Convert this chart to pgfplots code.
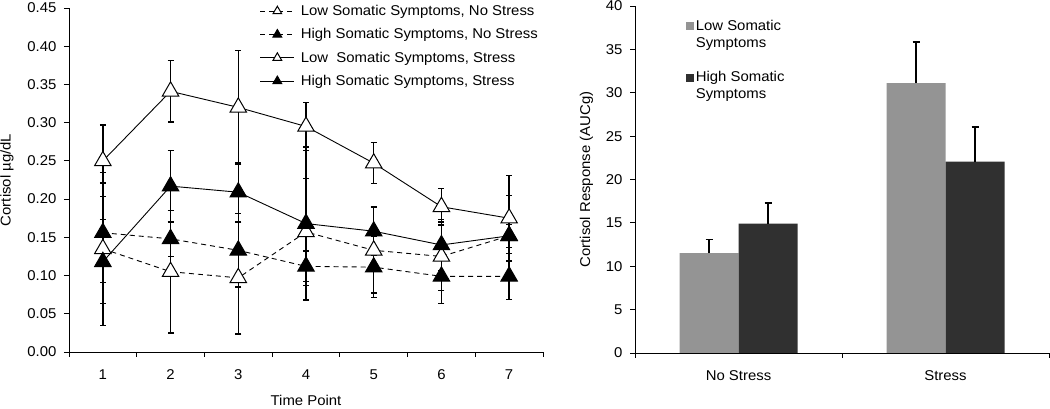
\documentclass[border=0pt]{standalone}
\usepackage{fontspec}
\setmainfont{Liberation Sans}[FakeStretch=1.05]
\usepackage{pgfplots}
\pgfplotsset{compat=1.18}
\definecolor{lowgray}{HTML}{949494}
\definecolor{highgray}{HTML}{303030}
\begin{document}
\begin{tikzpicture}
\useasboundingbox (0pt,0pt) rectangle (1050pt,409pt);
\pgfplotsset{
  every axis/.append style={font=\fontsize{14.2}{17}\selectfont},
  /pgf/number format/assume math mode=true,
}
\begin{axis}[
  at={(69pt,57pt)}, anchor=south west, scale only axis,
  width=474pt, height=344pt,
  xmin=0.5, xmax=7.5, ymin=0, ymax=0.45,
  axis x line*=bottom, axis y line*=left,
  xtick={1,2,3,4,5,6,7},
  minor xtick={0.5,1.5,2.5,3.5,4.5,5.5,6.5,7.5},
  major x tick style={draw=none},
  ytick={0,0.05,0.10,0.15,0.20,0.25,0.30,0.35,0.40,0.45},
  yticklabel style={/pgf/number format/.cd, fixed, fixed zerofill, precision=2, /tikz/.cd, xshift=-4pt},
  xticklabel style={yshift=-9pt},
  tick align=outside, major tick length=5pt, minor tick length=5pt,
  tick style={black, line width=0.8pt},
  axis line style={line width=0.8pt},
  xlabel={Time Point}, ylabel={Cortisol µg/dL},
  xlabel shift=9pt, ylabel shift=7pt,
  legend cell align=left,
  legend style={at={(0.396,1.02)}, anchor=north west, draw=none, fill=none,
    row sep=7.5pt, font=\fontsize{14.2}{17}\selectfont},
  legend image code/.code={\draw[mark repeat=2,mark phase=2,#1,mark size=5pt] plot coordinates {(0pt,0pt) (17pt,0pt) (34pt,0pt)}; \path (38pt,0pt);},
  error bars/y dir=both, error bars/y explicit,
  error bars/error bar style={line width=1.3pt, solid, black},
  error bars/error mark options={rotate=90, mark size=3pt, line width=1.3pt, solid},
]
\addplot[black, line width=0.9pt, dashed, dash pattern=on 5pt off 4pt, mark=triangle*, mark size=9.5pt, mark options={solid, fill=white, line width=1pt}]
 coordinates {(1,0.135) +- (0,0.100) (2,0.105) +- (0,0.080) (3,0.097) +- (0,0.0735) (4,0.157) +- (0,0.070) (5,0.133) +- (0,0.056) (6,0.125) +- (0,0.045) (7,0.152) +- (0,0.015)};
\addlegendentry{Low Somatic Symptoms, No Stress}
\addplot[black, line width=0.9pt, dashed, dash pattern=on 5pt off 4pt, mark=triangle*, mark size=9.5pt, mark options={solid, fill=black, line width=1pt}]
 coordinates {(1,0.156) +- (0,0.065) (2,0.148) +- (0,0.023) (3,0.133) +- (0,0.048) (4,0.112) +- (0,0.020) (5,0.111) +- (0,0.040) (6,0.099) +- (0,0.036) (7,0.099) +- (0,0.030)};
\addlegendentry{High Somatic Symptoms, No Stress}
\addplot[black, line width=0.9pt, mark=triangle*, mark size=9.5pt, mark options={solid, fill=white, line width=1pt}]
 coordinates {(1,0.250) +- (0,0.047) (2,0.341) +- (0,0.040) (3,0.320) +- (0,0.074) (4,0.295) +- (0,0.031) (5,0.247) +- (0,0.027) (6,0.190) +- (0,0.024) (7,0.175) +- (0,0.056)};
\addlegendentry{Low\ \ Somatic Symptoms, Stress}
\addplot[black, line width=0.9pt, mark=triangle*, mark size=9.5pt, mark options={solid, fill=black, line width=1pt}]
 coordinates {(1,0.118) +- (0,0.055) (2,0.217) +- (0,0.047) (3,0.209) +- (0,0.039) (4,0.168) +- (0,0.100) (5,0.158) +- (0,0.032) (6,0.140) +- (0,0.033) (7,0.152) +- (0,0.053)};
\addlegendentry{High Somatic Symptoms, Stress}
\end{axis}

\begin{axis}[
  at={(635pt,56pt)}, anchor=south west, scale only axis,
  width=414pt, height=347pt,
  xmin=-0.5, xmax=1.5, ymin=0, ymax=40,
  ybar=0pt, bar width=59pt,
  axis x line*=bottom, axis y line*=left,
  xtick={0,1}, xticklabels={No Stress, Stress},
  minor xtick={-0.5,0.5,1.5},
  major x tick style={draw=none},
  ytick={0,5,10,15,20,25,30,35,40},
  yticklabel style={xshift=-4pt},
  xticklabel style={yshift=-9pt},
  tick align=outside, major tick length=5pt, minor tick length=5pt,
  tick style={black, line width=0.8pt},
  axis line style={line width=0.8pt},
  ylabel={Cortisol Response (AUCg)}, ylabel shift=6pt,
  legend cell align=left,
  legend style={at={(0.115,0.972)}, anchor=north west, draw=none, fill=none,
    row sep=19pt, cells={align=left}, font=\fontsize{14.2}{17}\selectfont},
  legend image code/.code={\fill[#1] (0pt,4.5pt) rectangle (8pt,12.5pt); \path (0pt,-12.5pt);},
  error bars/y dir=plus, error bars/y explicit,
  error bars/error bar style={line width=1.2pt, black},
  error bars/error mark options={rotate=90, mark size=3.5pt, line width=1.2pt, black},
]
\addplot[fill=lowgray, draw=none]
 coordinates {(0,11.5) +- (0,1.55) (1,31.1) +- (0,4.75)};
\addlegendentry{Low Somatic\\Symptoms}
\addplot[fill=highgray, draw=none]
 coordinates {(0,14.9) +- (0,2.4) (1,22.05) +- (0,4.0)};
\addlegendentry{High Somatic\\Symptoms}
\end{axis}
\end{tikzpicture}
\end{document}
